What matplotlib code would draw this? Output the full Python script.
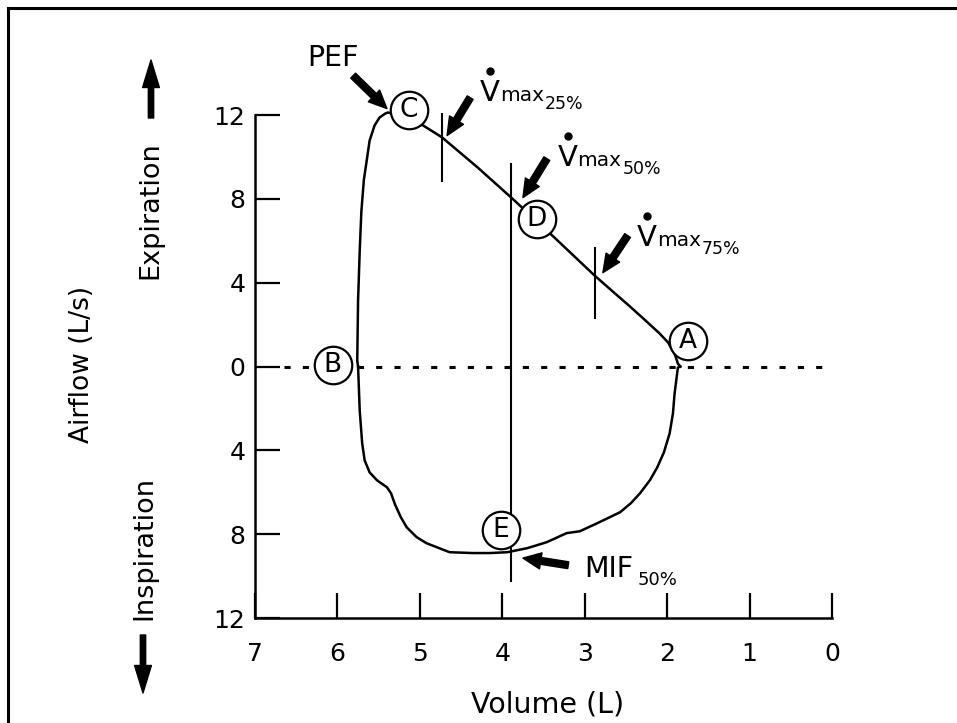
import matplotlib.pyplot as plt
from matplotlib.lines import Line2D
from matplotlib.transforms import offset_copy

# =============================================================================
# data (volume in L, flow in L/s, inspiration < 0)
# =============================================================================
# expiration limb: from A up to the peak (PEF), then down the left side to B
exp_volume = [1.84, 1.87, 1.91, 1.99, 2.09, 2.25, 2.45, 2.66, 2.88, 3.38, 3.88,
              4.30, 4.73, 4.96, 5.20, 5.39, 5.42, 5.49, 5.55, 5.61, 5.64, 5.68,
              5.71, 5.73, 5.75, 5.76, 5.75]
exp_flow = [0.0, 0.14, 0.62, 1.15, 1.57, 2.15, 2.86, 3.58, 4.34, 6.20, 8.02,
            9.50, 10.93, 11.50, 11.95, 12.12, 12.07, 11.88, 11.50, 10.78, 9.97, 8.90,
            7.40, 5.53, 3.15, 0.29, 0.0]

# inspiration limb: from B round the bottom back to A
insp_volume = [5.75, 5.73, 5.70, 5.67, 5.61, 5.52, 5.40, 5.35, 5.30, 5.23, 5.16,
               5.04, 4.92, 4.64, 4.36, 4.15, 3.94, 3.70, 3.46, 3.22, 3.06, 2.85,
               2.57, 2.44, 2.33, 2.21, 2.12, 2.04, 1.97, 1.93, 1.91, 1.87, 1.84]
insp_flow = [0.0, -2.10, -3.67, -4.48, -5.05, -5.43, -5.76, -6.05, -6.60, -7.20, -7.67,
             -8.14, -8.43, -8.86, -8.90, -8.90, -8.86, -8.67, -8.38, -7.95, -7.86, -7.48,
             -6.95, -6.52, -6.05, -5.43, -4.81, -4.10, -3.19, -2.24, -1.29, -0.05, 0.0]

# vertical markers at 25 / 50 / 75 % of vital capacity
marker_volume = [4.73, 3.89, 2.88]
marker_top = [12.1, 9.7, 5.68]
marker_bottom = [8.8, -10.3, 2.29]

# circled points
circle_labels = ["A", "B", "C", "D", "E"]
circle_volume = [1.75, 6.06, 5.13, 3.58, 4.02]
circle_flow = [1.24, 0.05, 12.26, 7.06, -7.81]

# arrows (tail -> tip)
arrow_tail = [(5.81, 13.88), (4.39, 12.83), (3.46, 9.92), (2.48, 6.25), (3.20, -9.48)]
arrow_tip = [(5.40, 12.31), (4.67, 11.02), (3.75, 8.06), (2.78, 4.48), (3.75, -9.14)]

# Vmax labels
vmax_pct = ["25%", "50%", "75%"]
vmax_pos = [(4.27, 12.69), (3.33, 9.59), (2.37, 5.77)]

x_ticks = [7, 6, 5, 4, 3, 2, 1, 0]
y_ticks = [-12, -8, -4, 0, 4, 8, 12]

# =============================================================================
# figure
# =============================================================================
fig = plt.figure(figsize=(9.57, 7.23), dpi=100)
ax = fig.add_axes([0.2665, 0.1452, 0.6029, 0.6957])
ax.set_xlim(7, 0)
ax.set_ylim(-12, 12)

for side in ["top", "right"]:
    ax.spines[side].set_visible(False)
for side in ["left", "bottom"]:
    ax.spines[side].set_linewidth(1.8)

ax.set_xticks(x_ticks)
ax.set_xticklabels([str(t) for t in x_ticks])
ax.set_yticks(y_ticks)
ax.set_yticklabels([str(abs(t)) for t in y_ticks])
ax.tick_params(direction="in", length=18, width=1.6, labelsize=18)
ax.tick_params(axis="x", pad=17)
ax.tick_params(axis="y", pad=7)

# zero flow dotted line
ax.plot([6.65, 0.08], [0, 0], color="black", lw=2.2, dashes=(2, 4), zorder=2)

# the loop
ax.plot(exp_volume, exp_flow, color="black", lw=1.8, zorder=3, clip_on=False,
        solid_joinstyle="round")
ax.plot(insp_volume, insp_flow, color="black", lw=1.8, zorder=3, clip_on=False,
        solid_joinstyle="round")

ax.vlines(marker_volume, marker_bottom, marker_top, color="black", lw=1.5,
          zorder=3, clip_on=False)

# circled letters
ax.plot(circle_volume, circle_flow, "o", ms=27, mfc="white", mec="black",
        mew=1.6, ls="none", zorder=4, clip_on=False)
for lab, v, f in zip(circle_labels, circle_volume, circle_flow):
    ax.text(v, f, lab, fontsize=19, ha="center", va="center", zorder=5)

for tail, tip in zip(arrow_tail, arrow_tip):
    ax.annotate("", xy=tip, xytext=tail, annotation_clip=False,
                arrowprops=dict(arrowstyle="simple,head_width=0.9,head_length=1.0,tail_width=0.38",
                                mutation_scale=13, fc="black", ec="black",
                                shrinkA=0, shrinkB=0), zorder=6)

# V-dot max labels
dot_trans = offset_copy(ax.transData, fig=fig, x=7.5, y=21.5, units="points")
for pct, (v, f) in zip(vmax_pct, vmax_pos):
    ax.text(v, f, "V", fontsize=21, ha="left", va="baseline")
    ax.annotate("max", (v, f), xytext=(14.4, 0), textcoords="offset points",
                fontsize=14.5, va="baseline", annotation_clip=False)
    ax.annotate(pct, (v, f), xytext=(46.8, -5.8), textcoords="offset points",
                fontsize=12.5, va="baseline", annotation_clip=False)
    ax.plot(v, f, "o", ms=5, color="black", transform=dot_trans, clip_on=False)

ax.text(6.06, 14.74, "PEF", fontsize=20.5, ha="center", va="center")
ax.text(3.00, -10.05, "MIF", fontsize=20.5, ha="left", va="baseline")
ax.annotate("50%", (3.00, -10.05), xytext=(38, -5.8), textcoords="offset points",
            fontsize=13, va="baseline", annotation_clip=False)

# axis labels
fig.text(0.0857, 0.4965, "Airflow (L/s)", rotation=90, fontsize=19,
         ha="center", va="center")
fig.text(0.1567, 0.7095, "Expiration", rotation=90, fontsize=19.5,
         ha="center", va="center")
fig.text(0.1505, 0.2420, "Inspiration", rotation=90, fontsize=19.5,
         ha="center", va="center")
fig.text(0.572, 0.025, "Volume (L)", fontsize=20.5, ha="center", va="center")

big_arrow = dict(arrowstyle="simple,head_width=1.1,head_length=1.8,tail_width=0.35",
                 mutation_scale=11, fc="black", ec="black", shrinkA=0, shrinkB=0)
fig.add_artist(plt.Annotation("", xy=(151, 663), xytext=(151, 605),
                              xycoords="figure pixels", arrowprops=big_arrow))
fig.add_artist(plt.Annotation("", xy=(143, 30), xytext=(143, 88),
                              xycoords="figure pixels", arrowprops=big_arrow))

# frame of the scanned figure
fig.add_artist(Line2D([0.0084, 0.0084], [0.0, 0.989], transform=fig.transFigure,
                      color="black", lw=2.2))
fig.add_artist(Line2D([0.0084, 1.0], [0.989, 0.989], transform=fig.transFigure,
                      color="black", lw=2.2))

fig.savefig("out.png", dpi=100)
